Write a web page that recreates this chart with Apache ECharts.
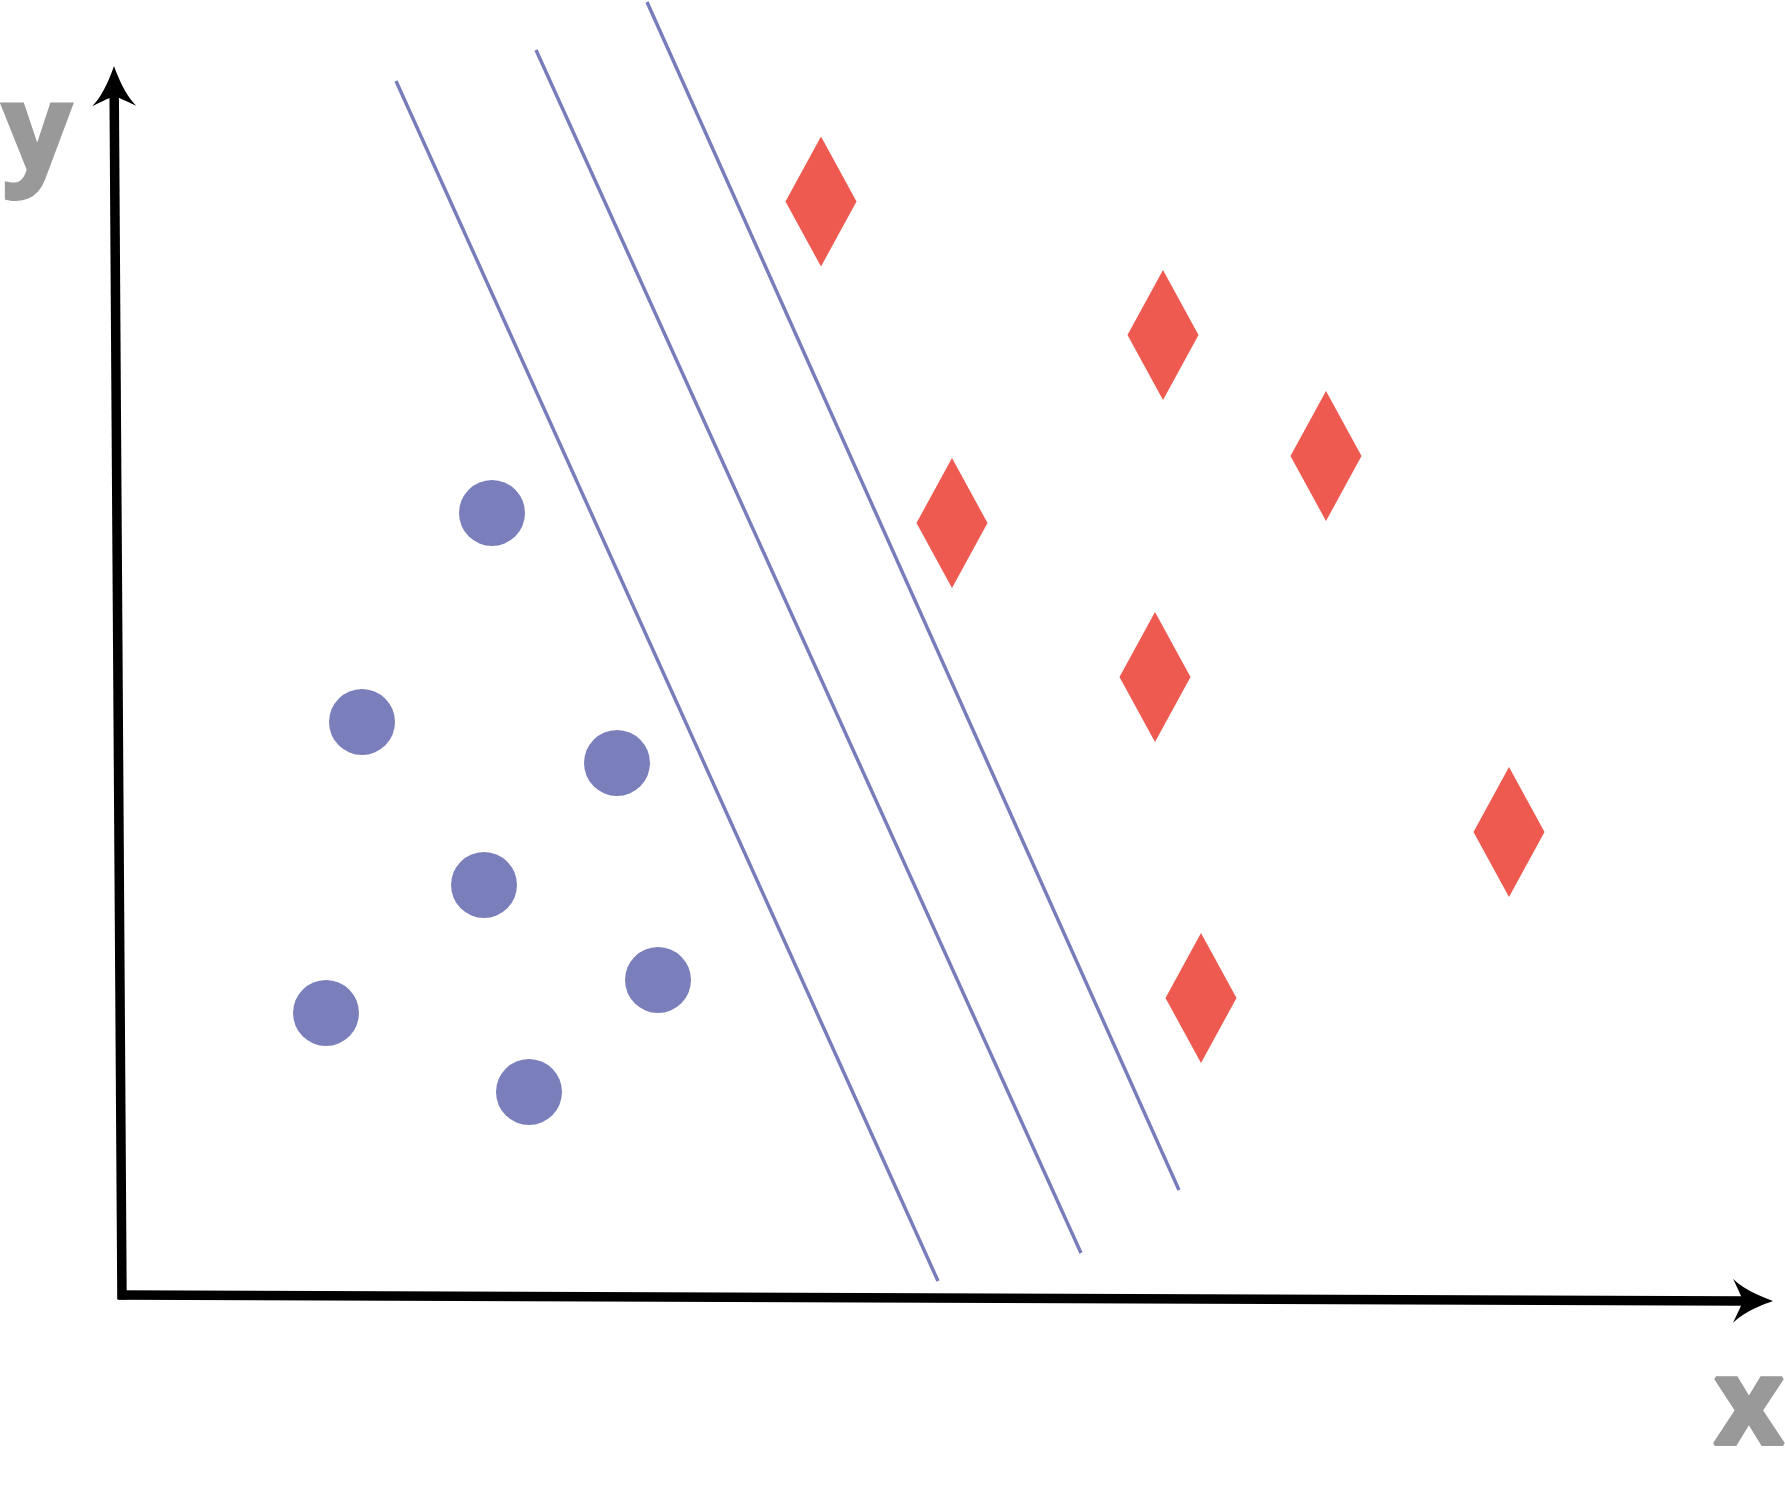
<!DOCTYPE html>
<html><head><meta charset="utf-8">
<script src="https://cdn.jsdelivr.net/npm/echarts@6/dist/echarts.min.js"></script>
<style>html,body{margin:0;padding:0;background:#fff}#c{width:1785px;height:1489px}</style>
</head><body><div id="c"></div>
<script>
// Data in chart units (origin at the axes' corner)
const classACircleX = [36.9, 23.9, 49.4, 36.1, 53.5, 20.3, 40.6];
const classACircleY = [78.2, 57.3, 53.2, 41.0, 31.5, 28.2, 20.3];
const classBDiamondX = [69.8, 104.0, 120.3, 82.9, 103.2, 138.6, 107.8];
const classBDiamondY = [109.35, 96.0, 83.9, 77.2, 61.8, 46.3, 29.7];
// separating lines: [x1, y1, x2, y2]
const marginLineLow = [27.3, 121.4, 81.5, 1.4];
const decisionLine = [41.3, 124.5, 95.8, 4.2];
const marginLineHigh = [52.4, 129.3, 105.6, 10.5];
// axis arrows: [startX, startY, tipX, tipY]
const xAxisArrow = [-0.45, 0.0, 165.0, -0.6];
const yAxisArrow = [-0.1, -0.45, -0.9, 122.9];
const axisNames = ['x', 'y'];

const BLUE = '#7a7eba';
const RED = '#ef5a50';
const GREY = '#999999';
const LABEL_FONT = 'bold 120px "Open Sans"';

function zipXY(xs, ys) { return xs.map((x, i) => [x, ys[i]]); }
function lineSeries(seg) {
  return {
    type: 'line', data: [[seg[0], seg[1]], [seg[2], seg[3]]],
    symbol: 'none', silent: true, animation: false,
    lineStyle: { color: '#777cba', width: 3.4 }
  };
}

function quad(p0, c, p1, n, out) {
  for (let i = 1; i <= n; i++) {
    const t = i / n, a = (1 - t) * (1 - t), b = 2 * (1 - t) * t, d = t * t;
    out.push([a * p0[0] + b * c[0] + d * p1[0], a * p0[1] + b * c[1] + d * p1[1]]);
  }
}

function renderArrow(params, api) {
  const p0 = api.coord([api.value(0), api.value(1)]);
  const p1 = api.coord([api.value(2), api.value(3)]);
  const dx = p1[0] - p0[0], dy = p1[1] - p0[1];
  const len = Math.hypot(dx, dy);
  const ux = dx / len, uy = dy / len, nx = -uy, ny = ux;
  const L = 40, W = 22;
  const P = (a, n) => [p1[0] - ux * a + nx * n, p1[1] - uy * a + ny * n];
  const tip = P(0, 0);
  const barbA = P(L, W), barbB = P(L, -W), notch = P(L * 0.75, 0);
  const pts = [tip];
  quad(tip, P(L * 0.7, W * 0.45), barbA, 14, pts);
  quad(barbA, P(L * 0.8, W * 0.25), notch, 8, pts);
  quad(notch, P(L * 0.8, -W * 0.25), barbB, 8, pts);
  quad(barbB, P(L * 0.7, -W * 0.45), tip, 14, pts);
  return {
    type: 'group',
    children: [
      { type: 'line', shape: { x1: p0[0], y1: p0[1], x2: notch[0], y2: notch[1] },
        style: { stroke: '#000', lineWidth: 9.5 } },
      { type: 'polygon', shape: { points: pts }, style: { fill: '#000' } }
    ]
  };
}

const chart = echarts.init(document.getElementById('c'), null, { renderer: 'canvas' });
chart.setOption({
  backgroundColor: '#fff',
  animation: false,
  grid: { left: 0, right: 0, top: 0, bottom: 0 },
  xAxis: { type: 'value', min: -12.3, max: 166.2, show: false },
  yAxis: { type: 'value', min: -19.4, max: 129.5, show: false },
  graphic: [
    { type: 'text', x: 37, y: 136, silent: true,
      style: { text: axisNames[1], fill: GREY, stroke: GREY, lineWidth: 4, lineJoin: 'miter',
               font: LABEL_FONT, align: 'center', verticalAlign: 'middle' } },
    { type: 'text', x: 1749, y: 1410, silent: true,
      style: { text: axisNames[0], fill: GREY, stroke: GREY, lineWidth: 4, lineJoin: 'miter',
               font: LABEL_FONT, align: 'center', verticalAlign: 'middle' } }
  ],
  series: [
    lineSeries(marginLineLow),
    lineSeries(decisionLine),
    lineSeries(marginLineHigh),
    { type: 'scatter', data: zipXY(classACircleX, classACircleY), symbol: 'circle', symbolSize: 66,
      itemStyle: { color: BLUE, opacity: 1 }, silent: true },
    { type: 'scatter', data: zipXY(classBDiamondX, classBDiamondY), symbol: 'diamond', symbolSize: [71, 130],
      itemStyle: { color: RED, opacity: 1 }, silent: true },
    { type: 'custom', renderItem: renderArrow, data: [xAxisArrow, yAxisArrow], silent: true, clip: false }
  ]
});
</script></body></html>
